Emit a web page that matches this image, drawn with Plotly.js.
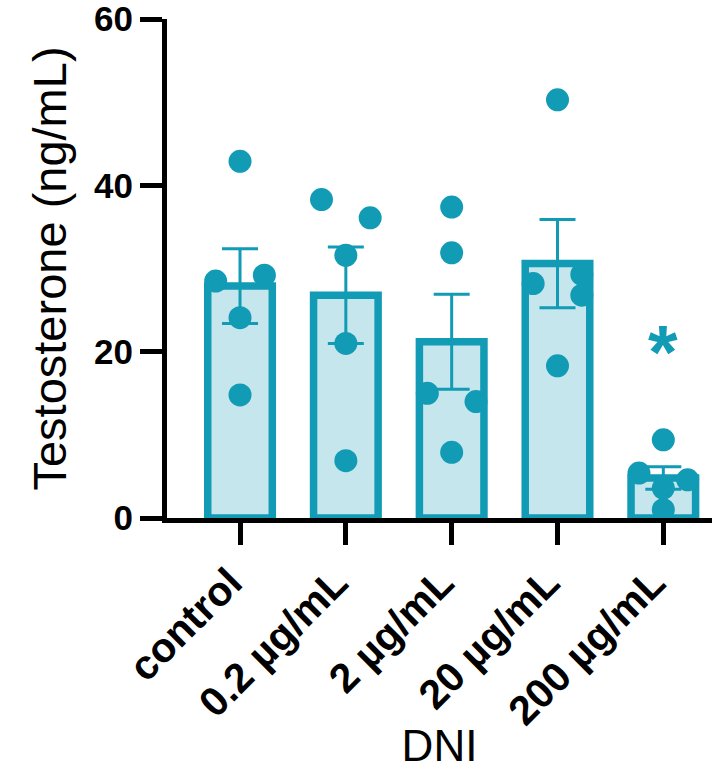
<!DOCTYPE html>
<html>
<head>
<meta charset="utf-8">
<script src="https://cdn.plot.ly/plotly-3.0.1.min.js"></script>
<style>html,body{margin:0;padding:0;background:#fff;}#chart{width:712px;height:770px;}</style>
</head>
<body>
<div id="chart"></div>
<script>
// Categories (tick labels)
var categories = ['control', '0.2 µg/mL', '2 µg/mL', '20 µg/mL', '200 µg/mL'];

// Individual values (ng/mL)
var controlVals = [42.9, 28.5, 29.2, 24.1, 14.8];
var dose02Vals  = [38.3, 36.1, 31.6, 21.0, 6.9];
var dose2Vals   = [37.4, 31.9, 15.0, 14.0, 7.9];
var dose20Vals  = [50.3, 28.2, 29.3, 26.8, 18.3];
var dose200Vals = [9.4, 5.4, 4.6, 3.6, 1.0];

// Bar means and SEM
var means = [27.9, 26.8, 21.2, 30.6, 4.8];
var sems  = [4.5, 5.8, 5.7, 5.3, 1.35];

// Y ticks
var yTicks = [0, 20, 40, 60];

// Significance marker
var sigLabel = '*';
var sigIndex = 4;
var sigValue = 21;

// horizontal spread of the dots (style)
var spread = [
  [0, -0.23, 0.23, 0, 0],
  [-0.23, 0.23, 0, 0, 0],
  [0, 0, -0.23, 0.23, 0],
  [0, -0.23, 0.23, 0.23, 0],
  [0, -0.23, 0.23, 0, 0]
];

var teal = '#129bb5';
var light = '#c5e6ec';
var font = 'Liberation Sans, Arial, Helvetica, sans-serif';

var groups = [controlVals, dose02Vals, dose2Vals, dose20Vals, dose200Vals];
var idx = categories.map(function(_, i){ return i; });

var traces = [{
  type: 'bar',
  x: idx,
  y: means,
  width: 0.61,
  marker: {color: light, line: {color: teal, width: 7.5}},
  error_y: {type: 'data', array: sems, visible: true, color: teal, thickness: 3, width: 18},
  hoverinfo: 'skip',
  showlegend: false
}];

var dx = [], dy = [];
groups.forEach(function(vals, g){
  vals.forEach(function(v, k){ dx.push(g + spread[g][k]); dy.push(v); });
});
traces.push({
  type: 'scatter', mode: 'markers', x: dx, y: dy,
  marker: {color: teal, size: 23, line: {width: 0}},
  cliponaxis: false, showlegend: false, hoverinfo: 'skip'
});

var layout = {
  width: 712, height: 770,
  margin: {l: 167, r: 0, t: 19, b: 252},
  paper_bgcolor: '#fff', plot_bgcolor: '#fff',
  showlegend: false,
  xaxis: {
    type: 'linear', range: [-0.69, 4.46],
    tickvals: idx, ticktext: categories, tickangle: -45,
    showline: true, linecolor: '#000', linewidth: 5,
    ticks: 'outside', ticklen: 22, tickwidth: 5, tickcolor: '#000',
    showgrid: false, zeroline: false,
    ticklabelshift: -10, ticklabelstandoff: -3,
    tickfont: {family: font, size: 41, color: '#000', weight: 'bold'},
    title: {text: 'DNI', font: {family: font, size: 44, color: '#000'}, standoff: 22}
  },
  yaxis: {
    range: [0, 60.02], tickvals: yTicks, ticktext: yTicks.map(String),
    showline: true, linecolor: '#000', linewidth: 5,
    ticks: 'outside', ticklen: 22, tickwidth: 5, tickcolor: '#000',
    showgrid: false, zeroline: false,
    ticklabeloverflow: 'allow',
    tickfont: {family: font, size: 35, color: '#000', weight: 'bold'},
    title: {text: 'Testosterone (ng/mL)', font: {family: font, size: 47, color: '#000'}, standoff: 14}
  },
  annotations: [{
    x: sigIndex, y: sigValue, xref: 'x', yref: 'y', text: sigLabel, showarrow: false,
    font: {family: font, size: 76, color: teal, weight: 'bold'}, yanchor: 'middle', yshift: -8
  }]
};

Plotly.newPlot('chart', traces, layout, {displayModeBar: false, staticPlot: true});
</script>
</body>
</html>
